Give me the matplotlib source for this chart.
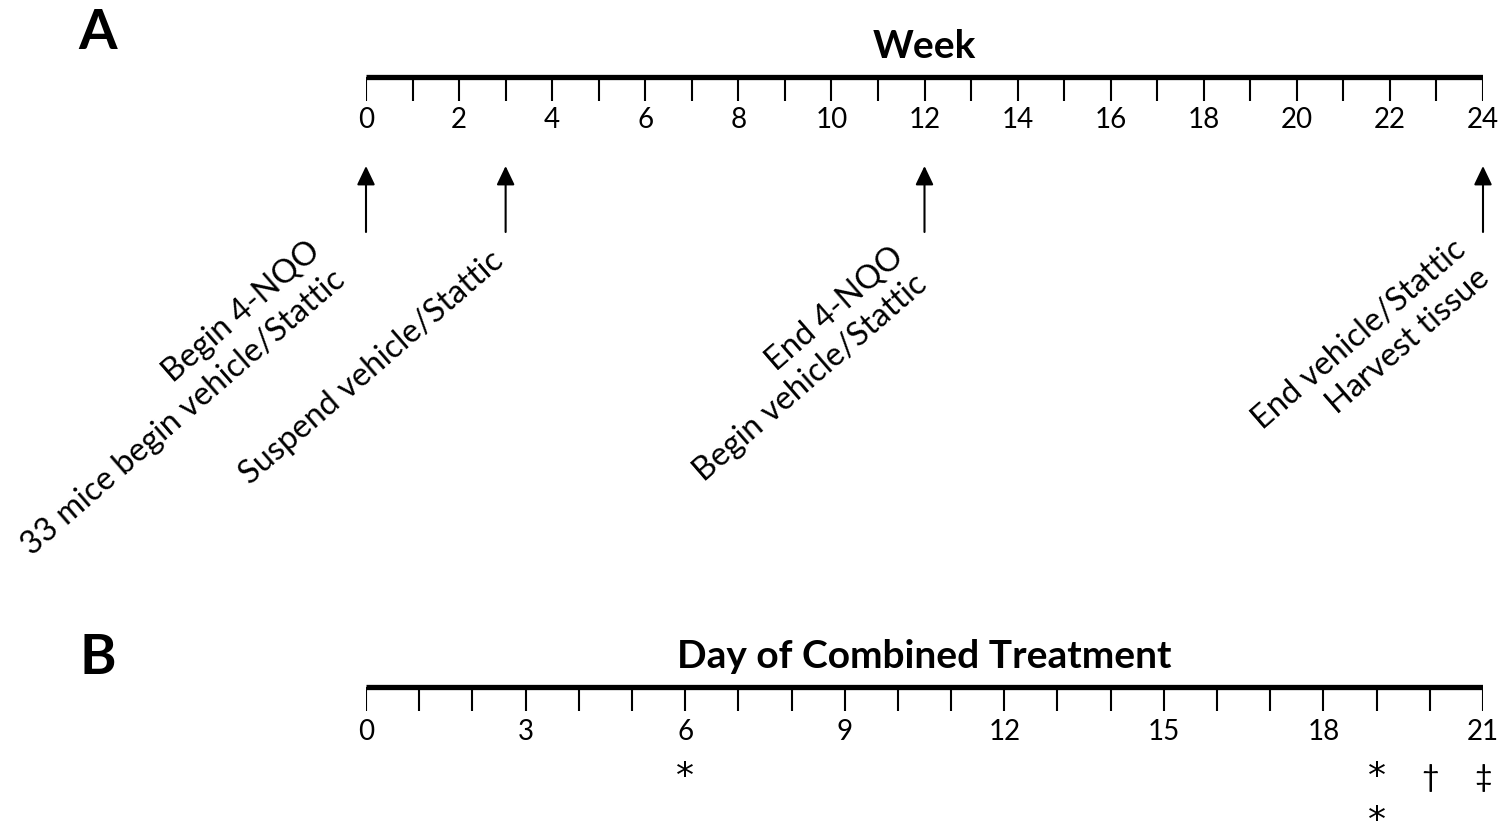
import numpy as np
import matplotlib.pyplot as plt

# Panel A: weeks
weeks = np.arange(0, 25)
week_ticklabels = [str(w) if w % 2 == 0 else '' for w in weeks]
event_weeks = [0, 3, 12, 24]
event_texts = ['Begin 4-NQO\n33 mice begin vehicle/Stattic',
               'Suspend vehicle/Stattic',
               'End 4-NQO\nBegin vehicle/Stattic',
               'End vehicle/Stattic\nHarvest tissue']

# Panel B: days
days = np.arange(0, 22)
day_ticklabels = [str(d) if d % 3 == 0 else '' for d in days]
mark_days = [6, 19, 19, 20, 21]
mark_symbols = ['*', '*', '*', '\u2020', '\u2021']
mark_rows = [0, 0, 1, 0, 0]

plt.rcParams['font.family'] = ['Lato', 'DejaVu Sans']

W, H = 1504, 825
fig = plt.figure(figsize=(W / 100, H / 100), dpi=100)
left = 366 / W
width = (1483 - 366) / W
axA = fig.add_axes([left, 0, width, 1])
axB = fig.add_axes([left, 0, width, 1])
for ax in (axA, axB):
    ax.set_ylim(H, 0)  # y in pixel rows from the top
    ax.axis('off')
axA.set_xlim(weeks[0], weeks[-1])
axB.set_xlim(days[0], days[-1])


def timeline(ax, ticks, labels, y_line, y_lab, title, y_title):
    ax.plot([ticks[0], ticks[-1]], [y_line, y_line], color='k', lw=3.8,
            solid_capstyle='butt')
    ax.vlines(ticks, y_line, y_line + 24, color='k', lw=1.5)
    for t, lab in zip(ticks, labels):
        ax.text(t, y_lab, lab, ha='center', va='baseline', fontsize=20)
    ax.text((ticks[0] + ticks[-1]) / 2, y_title, title, ha='center',
            va='baseline', fontsize=28, fontweight='bold')


timeline(axA, weeks, week_ticklabels, 77, 128, 'Week', 58)
timeline(axB, days, day_ticklabels, 687, 740, 'Day of Combined Treatment', 668)

# arrows and rotated event labels (anchor = end of the last line's baseline)
label_offsets = [(-24, 277), (0, 264), (0, 282), (4, 275)]
for w, txt, (dx, ytxt) in zip(event_weeks, event_texts, label_offsets):
    axA.annotate('', xy=(w, 166), xytext=(w, 232),
                 arrowprops=dict(arrowstyle='-|>,head_length=1.15,head_width=0.55',
                                 mutation_scale=10, lw=1.5, color='k',
                                 shrinkA=0, shrinkB=0))
    xpix = axA.transData.transform((w, 0))[0] + dx
    fig.text(xpix / W, 1 - ytxt / H, txt, rotation=41, rotation_mode='anchor',
             ha='right', va='baseline', multialignment='right', fontsize=23.5,
             linespacing=1.3)

# symbols under the day axis
for d, s, r in zip(mark_days, mark_symbols, mark_rows):
    if s == '*':
        axB.text(d, 787 + 44 * r, s, ha='center', va='baseline', fontsize=26,
                 family='DejaVu Sans')
    else:
        axB.text(d, 787, s, ha='center', va='baseline', fontsize=22)

fig.text(98 / W, 1 - 49 / H, 'A', ha='center', va='baseline', fontsize=40,
         fontweight='bold')
fig.text(98 / W, 1 - 674 / H, 'B', ha='center', va='baseline', fontsize=40,
         fontweight='bold')

fig.savefig('out.png', dpi=100)
